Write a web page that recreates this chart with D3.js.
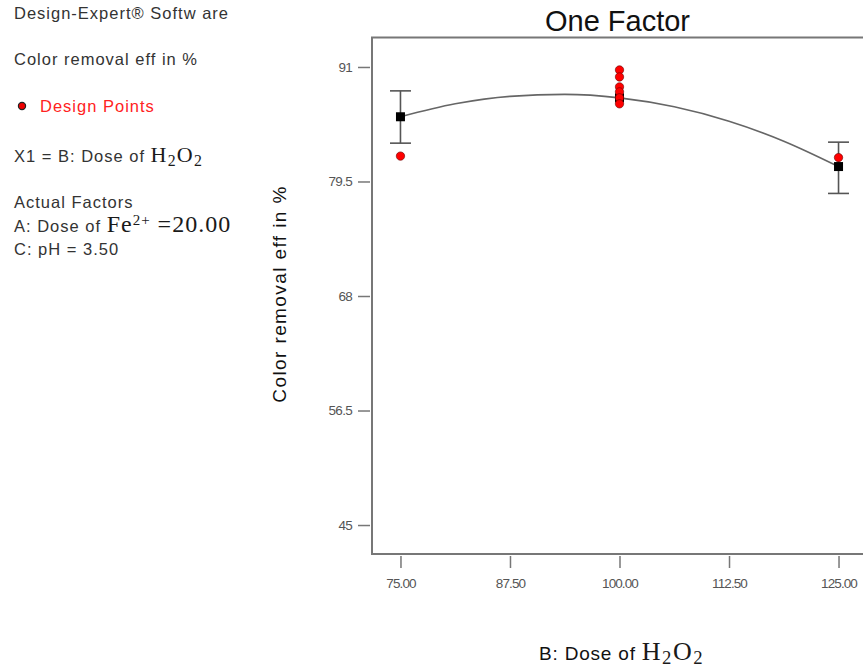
<!DOCTYPE html>
<html>
<head>
<meta charset="utf-8">
<script src="https://cdn.jsdelivr.net/npm/d3@7/dist/d3.min.js"></script>
<style>
  html, body { margin: 0; padding: 0; background: #fff; }
  svg { display: block; }
  .sans { font-family: "Liberation Sans", Arial, sans-serif; }
  .serif { font-family: "Liberation Serif", "Times New Roman", serif; }
</style>
</head>
<body>
<svg id="chart" width="863" height="667"></svg>
<script>
// Factor levels of B (dose of H2O2) and the model prediction with its LSD bars
const levels    = [75, 100, 125];
const predicted = [86.0, 87.9, 81.0];
const barLevels = [75, 125];
const barLow    = [83.35, 78.3];
const barHigh   = [88.6, 83.45];

// Design points (actual runs)
const designB = [75, 100, 100, 100, 100, 100, 100, 125];
const designY = [82.05, 90.7, 90.0, 89.0, 88.5, 87.9, 87.3, 81.9];

// Fitted response curve
const curveB = [75, 81.25, 87.5, 93.75, 100, 106.25, 112.5, 118.75, 125];
const curveY = [86.0, 87.3, 88.05, 88.25, 87.9, 87.0, 85.55, 83.55, 81.0];

// Axis ticks
const xTicks = [75, 87.5, 100, 112.5, 125];
const xTickLabels = ["75.00", "87.50", "100.00", "112.50", "125.00"];
const yTicks = [45, 56.5, 68, 79.5, 91];
const yTickLabels = ["45", "56.5", "68", "79.5", "91"];

const svg = d3.select("#chart");
const plot = { left: 372, top: 37.5, right: 867, bottom: 554 };

const x = d3.scaleLinear().domain([71.75, 128.25]).range([plot.left, plot.right]);
const y = d3.scaleLinear().domain([42.09, 93.96]).range([plot.bottom, plot.top]);

const axisColor = "#777";

// Plot frame (top, left, bottom)
svg.append("path")
  .attr("d", `M${plot.right},${plot.top}H${plot.left}V${plot.bottom}H${plot.right}`)
  .attr("fill", "none").attr("stroke", axisColor).attr("stroke-width", 2);

// Y axis ticks and labels (set slightly off the frame)
const yAxis = d3.axisLeft(y).tickValues(yTicks).tickSize(12)
  .tickFormat((d, i) => yTickLabels[i]).tickPadding(6);
const gy = svg.append("g").attr("transform", `translate(${plot.left - 2},0)`).call(yAxis);
gy.select(".domain").remove();
gy.selectAll(".tick line").attr("stroke", axisColor).attr("stroke-width", 1.5);
gy.selectAll(".tick text").attr("class", "sans").attr("font-size", 13.5)
  .attr("fill", "#555").attr("letter-spacing", "-0.7");

// X axis ticks and labels
const xAxis = d3.axisBottom(x).tickValues(xTicks).tickSize(12)
  .tickFormat((d, i) => xTickLabels[i]).tickPadding(10);
const gx = svg.append("g").attr("transform", `translate(0,${plot.bottom + 2})`).call(xAxis);
gx.select(".domain").remove();
gx.selectAll(".tick line").attr("stroke", axisColor).attr("stroke-width", 1.5);
gx.selectAll(".tick text").attr("class", "sans").attr("font-size", 13.5)
  .attr("fill", "#555").attr("letter-spacing", "-0.9");

// Fitted curve
const line = d3.line().x(d => x(d[0])).y(d => y(d[1])).curve(d3.curveMonotoneX);
svg.append("path")
  .datum(curveB.map((b, i) => [b, curveY[i]]))
  .attr("d", line)
  .attr("fill", "none").attr("stroke", "#666").attr("stroke-width", 1.6);

// LSD bars
const capW = 10.5;
barLevels.forEach((b, i) => {
  const cx = x(b);
  const g = svg.append("g").attr("stroke", "#555").attr("stroke-width", 1.6);
  g.append("line").attr("x1", cx).attr("x2", cx).attr("y1", y(barHigh[i])).attr("y2", y(barLow[i]));
  g.append("line").attr("x1", cx - capW).attr("x2", cx + capW).attr("y1", y(barHigh[i])).attr("y2", y(barHigh[i]));
  g.append("line").attr("x1", cx - capW).attr("x2", cx + capW).attr("y1", y(barLow[i])).attr("y2", y(barLow[i]));
});

// Predicted values
svg.selectAll("rect.pred").data(levels).enter().append("rect")
  .attr("class", "pred")
  .attr("x", d => x(d) - 4.5).attr("y", (d, i) => y(predicted[i]) - 4.5)
  .attr("width", 9).attr("height", 9).attr("fill", "#000");

// Design points
svg.selectAll("circle.pt").data(designB).enter().append("circle")
  .attr("class", "pt")
  .attr("cx", d => x(d)).attr("cy", (d, i) => y(designY[i]))
  .attr("r", 4.2).attr("fill", "#f00").attr("stroke", "#600").attr("stroke-width", 0.6);

// Title
svg.append("text").attr("class", "sans").attr("x", 617.5).attr("y", 31)
  .attr("text-anchor", "middle").attr("font-size", 29).attr("fill", "#111")
  .text("One Factor");

// Y axis title
svg.append("text").attr("class", "sans")
  .attr("transform", "translate(286,294) rotate(-90)")
  .attr("text-anchor", "middle").attr("font-size", 19).attr("letter-spacing", 1.4)
  .attr("fill", "#111")
  .text("Color removal eff in %");

// Chemical formula helper: H2O2 with subscripts
function formula(sel, size, spacing) {
  const t = sel.append("tspan").attr("class", "serif").attr("font-size", size)
    .attr("letter-spacing", spacing).attr("fill", "#1a1a1a");
  t.append("tspan").text("H");
  t.append("tspan").attr("font-size", size * 0.72).attr("dy", size * 0.16).text("2");
  t.append("tspan").attr("dy", -size * 0.16).text("O");
  t.append("tspan").attr("font-size", size * 0.72).attr("dy", size * 0.16).text("2");
}

// X axis title
const xt = svg.append("text").attr("class", "sans").attr("x", 539).attr("y", 660)
  .attr("font-size", 19).attr("letter-spacing", 0.8).attr("fill", "#111");
xt.append("tspan").text("B: Dose of ");
formula(xt, 26, 1.5);

// Side panel
const side = svg.append("g").attr("class", "sans").attr("fill", "#333")
  .attr("font-size", 16.5).attr("letter-spacing", 1.0);
side.append("text").attr("x", 14).attr("y", 19).text("Design-Expert® Softw are");
side.append("text").attr("x", 14).attr("y", 65).text("Color removal eff in %");
side.append("circle").attr("cx", 22).attr("cy", 106).attr("r", 3.6)
  .attr("fill", "#e00").attr("stroke", "#222").attr("stroke-width", 1.2);
side.append("text").attr("x", 40).attr("y", 111.5).attr("fill", "#f22").text("Design Points");
const x1 = side.append("text").attr("x", 14).attr("y", 162);
x1.append("tspan").text("X1 = B: Dose of  ");
formula(x1, 22, 1.2);
side.append("text").attr("x", 14).attr("y", 208).text("Actual Factors");
const af = side.append("text").attr("x", 14).attr("y", 232);
af.append("tspan").text("A:  Dose of ");
const fe = af.append("tspan").attr("class", "serif").attr("font-size", 24)
  .attr("letter-spacing", 1.0).attr("fill", "#1a1a1a");
fe.append("tspan").text("Fe");
fe.append("tspan").attr("font-size", 15).attr("dy", -7).text("2+");
fe.append("tspan").attr("dy", 7).text(" =20.00");
side.append("text").attr("x", 14).attr("y", 255).text("C: pH = 3.50");
</script>
</body>
</html>
